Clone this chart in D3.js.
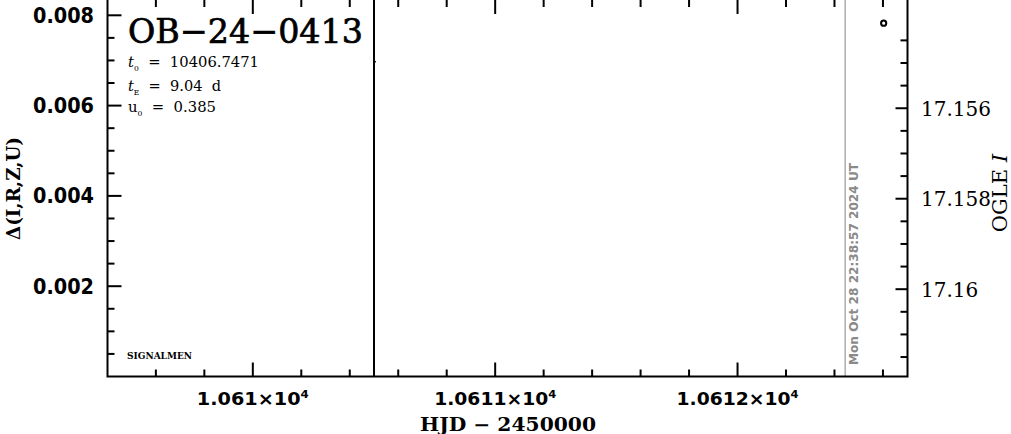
<!DOCTYPE html>
<html><head><meta charset="utf-8">
<script src="https://cdn.jsdelivr.net/npm/d3@7"></script>
<style>html,body{margin:0;padding:0;background:#fff;} svg{display:block}</style>
</head><body><svg id="c" width="1011" height="434"></svg>
<script>
// ---- data ----
const eventName = "OB−24−0413";
const paramSymbols = ["t", "t", "u"];
const paramSubs = ["0", "E", "0"];
const paramValues = ["10406.7471", "9.04\u00a0 d", "0.385"];
const xMajorTicks = [10610, 10611, 10612];
const xMajorLabels = ["1.061", "1.0611", "1.0612"];
const leftTicks = [0.002, 0.004, 0.006, 0.008];
const leftLabels = ["0.002", "0.004", "0.006", "0.008"];
const rightTicks = [17.156, 17.158, 17.16];
const rightLabels = ["17.156", "17.158", "17.16"];
const obsHJD = [10612.603];
const obsMag = [17.15412];
const resHJD = [10610.504];
const resDelta = [0.00697];
const markHJD = [10610.5];
const nowHJD = [10612.444];
const nowText = "Mon Oct 28 22:38:57 2024 UT";
const xLabel = "HJD − 2450000";
const yLeftLabel = "Δ(I,R,Z,U)";
const footer = "SIGNALMEN";

// ---- scales ----
const L = 107.5, R = 907.5, T = -1, B = 376.5;
const x = d3.scaleLinear().domain([10609.4004, 10612.7013]).range([L, R]);
const yL = d3.scaleLinear().domain([0, 0.008361]).range([B, T]);
const yR = d3.scaleLinear().domain([17.16193, 17.153585]).range([B, T]);

const svg = d3.select("#c");
const sans = "'DejaVu Sans', sans-serif";
const serif = "'DejaVu Serif', serif";

// reference lines
svg.selectAll("line.now").data(nowHJD).join("line")
  .attr("x1", d => x(d)).attr("x2", d => x(d)).attr("y1", T).attr("y2", B)
  .attr("stroke", "#999").attr("stroke-width", 1.2);
svg.selectAll("line.mark").data(markHJD).join("line")
  .attr("x1", d => x(d)).attr("x2", d => x(d)).attr("y1", T).attr("y2", B)
  .attr("stroke", "#000").attr("stroke-width", 2);

// ticks
const isMajorX = v => xMajorTicks.some(m => Math.abs(m - v) < 1e-6);
const xt = d3.ticks(10609.4, 10612.7, 17).filter(v => x(v) > L + 2 && x(v) < R - 2);
const g = svg.append("g").attr("stroke", "#000").attr("stroke-width", 2);
xt.forEach(v => {
  const len = isMajorX(v) ? 14 : 7;
  g.append("line").attr("x1", x(v)).attr("x2", x(v)).attr("y1", B).attr("y2", B - len);
  g.append("line").attr("x1", x(v)).attr("x2", x(v)).attr("y1", T).attr("y2", T + len + 1);
});
const ylt = yL.ticks(17).filter(v => v > 1e-9 && yL(v) > T + 2);
ylt.forEach(v => {
  const len = leftTicks.some(m => Math.abs(m - v) < 1e-9) ? 14 : 7;
  g.append("line").attr("x1", L).attr("x2", L + len).attr("y1", yL(v)).attr("y2", yL(v));
});
const yrt = yR.ticks(17).filter(v => v >= 17.1545 - 1e-9 && yR(v) < B - 2);
yrt.forEach(v => {
  const len = rightTicks.some(m => Math.abs(m - v) < 1e-9) ? 12 : 7;
  g.append("line").attr("x1", R).attr("x2", R - len).attr("y1", yR(v)).attr("y2", yR(v));
});

// frame
svg.append("rect").attr("x", L).attr("y", T).attr("width", R - L).attr("height", B - T)
  .attr("fill", "none").attr("stroke", "#000").attr("stroke-width", 2);

// tick labels
svg.selectAll("text.yl").data(leftTicks).join("text")
  .attr("x", 94).attr("y", d => yL(d) + 7.5)
  .attr("text-anchor", "end").attr("font-family", sans).attr("font-weight", "bold")
  .attr("font-size", 20.5).attr("textLength", 61).attr("lengthAdjust", "spacingAndGlyphs")
  .text((d, i) => leftLabels[i]);

svg.selectAll("text.yr").data(rightTicks).join("text")
  .attr("x", 921).attr("y", d => yR(d) + 7.5)
  .attr("font-family", serif).attr("font-size", 20)
  .text((d, i) => rightLabels[i]);

const xl = svg.selectAll("text.xl").data(xMajorTicks).join("text")
  .attr("x", d => x(d)).attr("y", 405)
  .attr("text-anchor", "middle").attr("font-family", sans).attr("font-weight", "bold")
  .attr("font-size", 18).attr("textLength", (d, i) => i === 0 ? 112 : 122).attr("lengthAdjust", "spacingAndGlyphs");
xl.append("tspan").text((d, i) => xMajorLabels[i] + "×10");
xl.append("tspan").attr("dy", -7).attr("font-size", 11).text("4");

// axis titles
svg.append("text").attr("x", 508).attr("y", 431).attr("text-anchor", "middle")
  .attr("font-family", serif).attr("font-weight", "bold").attr("font-size", 18)
  .attr("textLength", 176).attr("lengthAdjust", "spacingAndGlyphs").text(xLabel);
svg.append("text").attr("transform", "translate(20,188.5) rotate(-90)").attr("text-anchor", "middle")
  .attr("font-family", serif).attr("font-weight", "bold").attr("font-size", 18)
  .attr("textLength", 103).attr("lengthAdjust", "spacingAndGlyphs").text(yLeftLabel);
const ogle = svg.append("text").attr("transform", "translate(1007,193) rotate(-90)").attr("text-anchor", "middle")
  .attr("font-family", serif).attr("font-size", 21);
ogle.append("tspan").text("OGLE ");
ogle.append("tspan").attr("font-style", "italic").text("I");

// title and params
svg.append("text").attr("x", 128).attr("y", 43).attr("font-family", serif).attr("font-size", 34)
  .attr("stroke", "#000").attr("stroke-width", 0.7)
  .attr("textLength", 235).attr("lengthAdjust", "spacingAndGlyphs").text(eventName);
const rowY = [67, 91, 112];
const rowW = [131, 93, 88];
paramValues.forEach((v, i) => {
  const t = svg.append("text").attr("x", 128).attr("y", rowY[i]).attr("font-family", serif)
    .attr("font-size", 15.5).attr("textLength", rowW[i]).attr("lengthAdjust", "spacingAndGlyphs");
  t.append("tspan").attr("font-style", i < 2 ? "italic" : "normal").text(paramSymbols[i]);
  t.append("tspan").attr("dy", 3.5).attr("font-size", 8).text(paramSubs[i]);
  t.append("tspan").attr("dy", -3.5).text("\u00a0 =\u00a0 " + v);
});

svg.append("text").attr("x", 127).attr("y", 359).attr("font-family", serif).attr("font-weight", "bold")
  .attr("font-size", 10).attr("textLength", 65).attr("lengthAdjust", "spacingAndGlyphs").text(footer);

svg.append("text").attr("transform", `translate(${x(nowHJD[0]) + 13},365) rotate(-90)`)
  .attr("font-family", sans).attr("font-weight", "bold").attr("font-size", 12.5).attr("fill", "#8a8a8a")
  .attr("textLength", 202).attr("lengthAdjust", "spacingAndGlyphs").text(nowText);

// data
svg.selectAll("circle.obs").data(obsHJD).join("circle")
  .attr("cx", d => x(d)).attr("cy", (d, i) => yR(obsMag[i])).attr("r", 2.6)
  .attr("fill", "none").attr("stroke", "#000").attr("stroke-width", 2);
svg.selectAll("circle.res").data(resHJD).join("circle")
  .attr("cx", d => x(d)).attr("cy", (d, i) => yL(resDelta[i])).attr("r", 1)
  .attr("fill", "#000");
</script></body></html>
